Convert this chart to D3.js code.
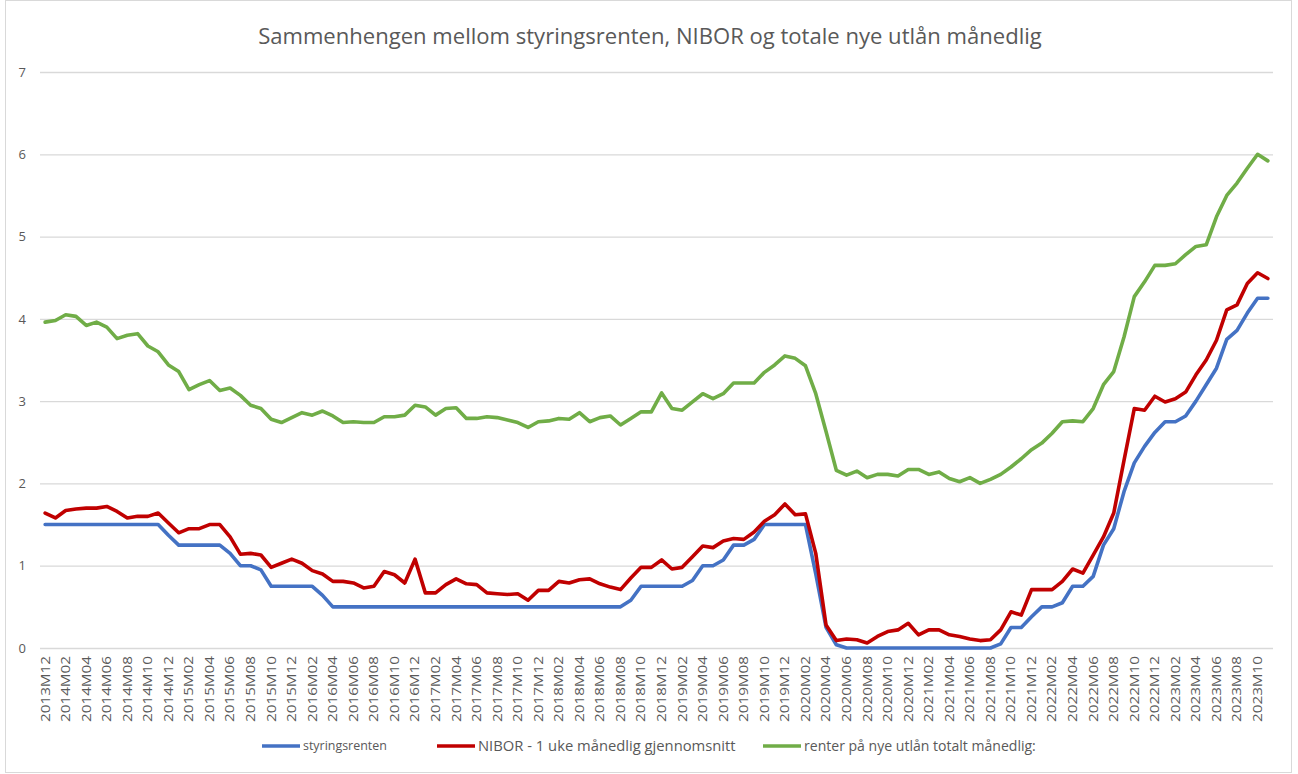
<!DOCTYPE html>
<html><head><meta charset="utf-8">
<script src="https://cdn.jsdelivr.net/npm/d3@7"></script>
<style>
html,body{margin:0;padding:0;background:#fff;}
svg{display:block;font-family:"Open Sans","Noto Sans",sans-serif;}
</style></head>
<body><svg id="chart" width="1298" height="774"></svg>
<script>
// ---- data ----
const startYear = 2013, startMonth = 12, nMonths = 120;
const categories = [];
for (let k = 0; k < nMonths; k++) {
  const m = (startMonth - 1 + k) % 12 + 1;
  const y = startYear + Math.floor((startMonth - 1 + k) / 12);
  categories.push(y + "M" + String(m).padStart(2, "0"));
}
const styringsrenten = [
  1.5,1.5,1.5,1.5,1.5,1.5,1.5,1.5,1.5,1.5,1.5,1.5,
  1.37,1.25,1.25,1.25,1.25,1.25,1.15,1.0,1.0,0.95,0.75,0.75,
  0.75,0.75,0.75,0.64,0.5,0.5,0.5,0.5,0.5,0.5,0.5,0.5,
  0.5,0.5,0.5,0.5,0.5,0.5,0.5,0.5,0.5,0.5,0.5,0.5,
  0.5,0.5,0.5,0.5,0.5,0.5,0.5,0.5,0.5,0.58,0.75,0.75,
  0.75,0.75,0.75,0.82,1.0,1.0,1.07,1.25,1.25,1.32,1.5,1.5,
  1.5,1.5,1.5,0.9,0.25,0.04,0,0,0,0,0,0,
  0,0,0,0,0,0,0,0,0,0.05,0.25,0.25,
  0.38,0.5,0.5,0.55,0.75,0.75,0.87,1.25,1.45,1.9,2.25,2.45,
  2.62,2.75,2.75,2.82,3.0,3.2,3.4,3.75,3.86,4.07,4.25,4.25
];
const nibor = [
  1.64,1.58,1.67,1.69,1.70,1.70,1.72,1.66,1.58,1.60,1.60,1.64,
  1.52,1.40,1.45,1.45,1.50,1.50,1.35,1.14,1.15,1.13,0.98,1.03,
  1.08,1.03,0.94,0.90,0.81,0.81,0.79,0.73,0.75,0.93,0.89,0.79,
  1.08,0.67,0.67,0.77,0.84,0.78,0.77,0.67,0.66,0.65,0.66,0.58,
  0.70,0.70,0.81,0.79,0.83,0.84,0.78,0.74,0.71,0.85,0.98,0.98,
  1.07,0.96,0.98,1.11,1.24,1.22,1.30,1.33,1.32,1.41,1.54,1.62,
  1.75,1.62,1.63,1.15,0.28,0.09,0.11,0.10,0.06,0.14,0.20,0.22,
  0.30,0.16,0.22,0.22,0.16,0.14,0.11,0.09,0.10,0.22,0.44,0.40,
  0.71,0.71,0.71,0.81,0.96,0.91,1.13,1.35,1.64,2.28,2.91,2.89,
  3.06,2.99,3.03,3.11,3.32,3.50,3.74,4.11,4.17,4.43,4.56,4.49
];
const nyeUtlan = [
  3.96,3.98,4.05,4.03,3.92,3.96,3.90,3.76,3.80,3.82,3.67,3.60,
  3.44,3.36,3.14,3.20,3.25,3.13,3.16,3.07,2.95,2.91,2.78,2.74,
  2.80,2.86,2.83,2.88,2.82,2.74,2.75,2.74,2.74,2.81,2.81,2.83,
  2.95,2.93,2.83,2.91,2.92,2.79,2.79,2.81,2.80,2.77,2.74,2.68,
  2.75,2.76,2.79,2.78,2.86,2.75,2.80,2.82,2.71,2.79,2.87,2.87,
  3.10,2.91,2.89,2.99,3.09,3.03,3.09,3.22,3.22,3.22,3.35,3.44,
  3.55,3.52,3.43,3.09,2.63,2.16,2.10,2.15,2.07,2.11,2.11,2.09,
  2.17,2.17,2.11,2.14,2.06,2.02,2.07,2.00,2.05,2.11,2.20,2.30,
  2.41,2.49,2.61,2.75,2.76,2.75,2.91,3.20,3.36,3.78,4.27,4.45,
  4.65,4.65,4.67,4.78,4.88,4.90,5.24,5.50,5.65,5.83,6.00,5.92
];
const yTicks = [0,1,2,3,4,5,6,7];
const seriesNames = ["styringsrenten","NIBOR - 1 uke månedlig gjennomsnitt","renter på nye utlån totalt månedlig:"];
const seriesColors = ["#4472C4","#C00000","#70AD47"];
const titleText = "Sammenhengen mellom styringsrenten, NIBOR og totale nye utlån månedlig";

// ---- layout ----
const svg = d3.select("#chart");
const W = 1298, H = 774;
const plot = {left: 40, right: 1273, top: 72, bottom: 648};
const textColor = "#595959";

svg.append("rect").attr("x",5.5).attr("y",0.5).attr("width",1286).attr("height",772)
  .attr("fill","#fff").attr("stroke","#d9d9d9").attr("stroke-width",1);

const x = d3.scaleBand().domain(categories).range([plot.left, plot.right]);
const xc = c => x(c) + x.bandwidth()/2;
const y = d3.scaleLinear().domain([0,7]).range([plot.bottom, plot.top]);

// gridlines + y labels
const yAxis = d3.axisLeft(y).tickValues(yTicks).tickSize(-(plot.right-plot.left)).tickPadding(14).tickFormat(d3.format("d"));
const gy = svg.append("g").attr("transform",`translate(${plot.left},0)`).call(yAxis);
gy.select(".domain").remove();
gy.selectAll(".tick line").attr("stroke","#d9d9d9").attr("stroke-width",1.3);
gy.selectAll(".tick text").attr("fill",textColor).attr("font-size",13).attr("font-family","Open Sans");

// x labels
const xAxis = d3.axisBottom(x).tickValues(categories.filter((d,i)=>i%2===0)).tickSize(0).tickPadding(0);
const gx = svg.append("g").attr("transform",`translate(0,${plot.bottom})`).call(xAxis);
gx.select(".domain").remove();
gx.selectAll(".tick text")
  .attr("fill",textColor).attr("font-size",12.5).attr("font-family","Open Sans")
  .attr("text-anchor","end").attr("dy","0.35em")
  .attr("transform","translate(0,8) rotate(-90)")
  .attr("x",0).attr("y",0)
  .attr("textLength",66).attr("lengthAdjust","spacingAndGlyphs");

// lines
const series = [styringsrenten, nibor, nyeUtlan];
const line = d3.line().x((d,i)=>xc(categories[i])).y(d=>y(d));
series.forEach((s,k)=>{
  svg.append("path").datum(s).attr("d",line).attr("fill","none")
    .attr("stroke",seriesColors[k]).attr("stroke-width",3.6)
    .attr("stroke-linejoin","round").attr("stroke-linecap","round");
});

// title
const title = svg.append("text").attr("x",650).attr("y",44).attr("text-anchor","middle")
  .attr("fill",textColor).attr("font-size",20).attr("font-family","Open Sans").text(titleText);
const tw = title.node().getComputedTextLength();
title.attr("font-size", 20*784/tw);

// legend
const legendX = [262, 437, 763];
const legendW = [84, 258, 232];
const ly = 746;
seriesNames.forEach((n,k)=>{
  svg.append("line").attr("x1",legendX[k]).attr("x2",legendX[k]+38).attr("y1",ly).attr("y2",ly)
    .attr("stroke",seriesColors[k]).attr("stroke-width",3.6);
  const t = svg.append("text").attr("x",legendX[k]+41).attr("y",ly).attr("dy","0.35em")
    .attr("fill",textColor).attr("font-size",13).attr("font-family","Open Sans").text(n);
  const w = t.node().getComputedTextLength();
  t.attr("font-size", 13*legendW[k]/w);
});
</script></body></html>
